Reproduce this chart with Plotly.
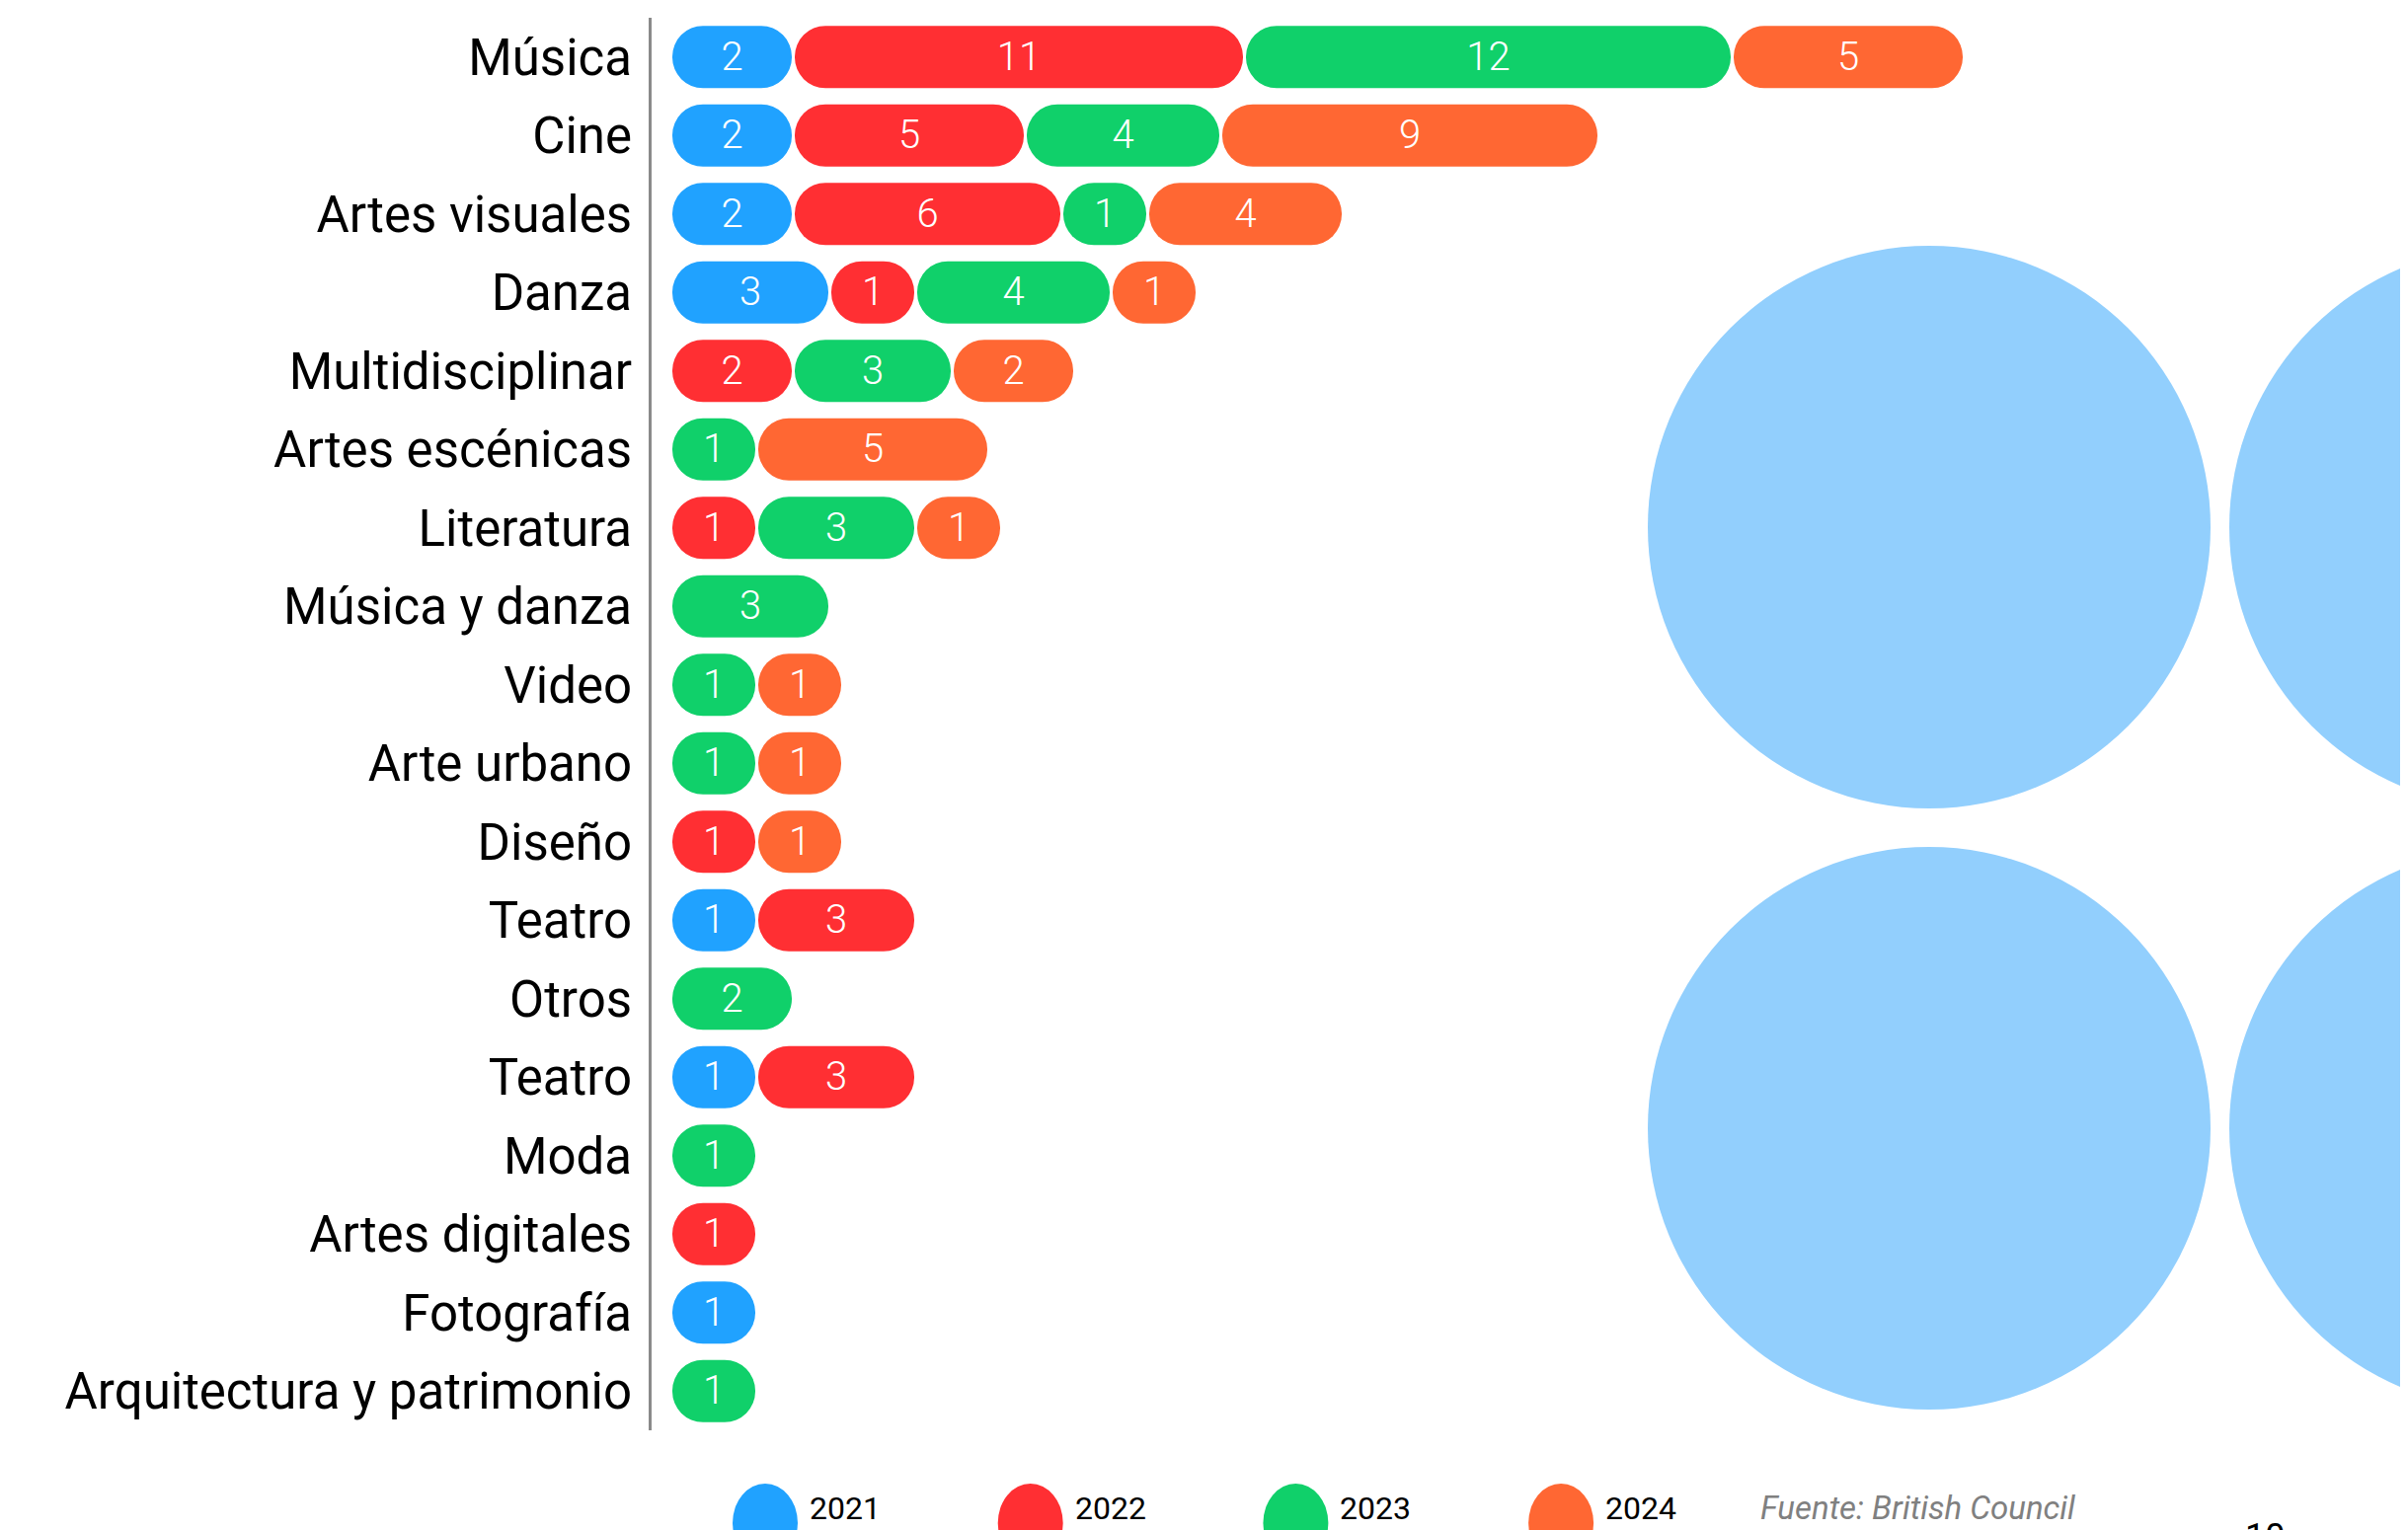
import plotly.graph_objects as go

# ---------------- data ----------------
categories = ["Música", "Cine", "Artes visuales", "Danza", "Multidisciplinar",
              "Artes escénicas", "Literatura", "Música y danza", "Video",
              "Arte urbano", "Diseño", "Teatro", "Otros", "Teatro", "Moda",
              "Artes digitales", "Fotografía", "Arquitectura y patrimonio"]
years = ["2021", "2022", "2023", "2024"]
v2021 = [2, 2, 2, 3, 0, 0, 0, 0, 0, 0, 0, 1, 0, 1, 0, 0, 1, 0]
v2022 = [11, 5, 6, 1, 2, 0, 1, 0, 0, 0, 1, 3, 0, 3, 0, 1, 0, 0]
v2023 = [12, 4, 1, 4, 3, 1, 3, 3, 1, 1, 0, 0, 2, 0, 1, 0, 0, 1]
v2024 = [5, 9, 4, 1, 2, 5, 1, 0, 1, 1, 1, 0, 0, 0, 0, 0, 0, 0]
source_text = "Fuente: British Council"
page_number = "10"

# ---------------- style ----------------
colors = ["#20A2FF", "#FF2F33", "#10D06A", "#FF6733"]
circle_color = "#92CFFD"
W, H = 2439, 1550
OFF = 8                 # page body margin of the browser
ML, MR, MT, MB = 652, 0, 10, 109
PW, PH = W - ML - MR, H - MT - MB
UNIT_PX = 37.0          # pixels per unit of value
PAD = 47.0 / UNIT_PX    # extra length of each pill (rounded ends)
GAP = 3.0 / UNIT_PX     # small gap between pills
START = 21.0 / UNIT_PX  # gap between axis line and first pill
BAR_PX = 63.0
n = len(categories)
ROW_PX = PH / n
bar_w = BAR_PX / ROW_PX
TEXT_DY = 3.0 / ROW_PX  # nudge value labels down slightly
FONT = "Roboto"

def px_x(p):
    return (p - OFF - ML) / PW

def px_y(p):
    return (H - MB - (p - OFF)) / PH

series = [v2021, v2022, v2023, v2024]
rows = list(range(n))

fig = go.Figure()

for k, (yr, vals) in enumerate(zip(years, series)):
    ys, bases, lens, centers, labels = [], [], [], [], []
    for i in rows:
        pos = START
        for kk in range(k):
            if series[kk][i] > 0:
                pos += series[kk][i] + PAD + GAP
        v = vals[i]
        if v > 0:
            L = v + PAD
            ys.append(i)
            bases.append(pos)
            lens.append(L)
            centers.append(pos + L / 2)
            labels.append(str(v))
    fig.add_trace(go.Bar(
        orientation="h", y=ys, x=lens, base=bases, width=bar_w, name=yr,
        marker=dict(color=colors[k], cornerradius="50%", line=dict(width=0)),
        hoverinfo="skip", showlegend=False))
    fig.add_trace(go.Scatter(
        x=centers, y=[y + TEXT_DY for y in ys], mode="text", text=labels,
        textfont=dict(color="white", size=40, family=FONT, weight=300),
        hoverinfo="skip", showlegend=False))

shapes = []
# decorative circles
R = 285
for cx, cy in [(1954, 534), (1954, 1143), (2543, 534), (2543, 1143)]:
    shapes.append(dict(type="circle", xref="paper", yref="paper",
                       x0=px_x(cx - R), x1=px_x(cx + R),
                       y0=px_y(cy + R), y1=px_y(cy - R),
                       fillcolor=circle_color, line=dict(width=0), layer="below"))

annotations = []
LEG_X0, LEG_STEP, LEG_W, LEG_TOP = 742, 268.7, 66, 1503
for k, yr in enumerate(years):
    x0 = LEG_X0 + k * LEG_STEP
    shapes.append(dict(type="circle", xref="paper", yref="paper",
                       x0=px_x(x0), x1=px_x(x0 + LEG_W),
                       y0=px_y(LEG_TOP + 80), y1=px_y(LEG_TOP),
                       fillcolor=colors[k], line=dict(width=0)))
    annotations.append(dict(xref="paper", yref="paper", x=px_x(x0 + 76), y=px_y(1528),
                            text=yr, showarrow=False, xanchor="left", yanchor="middle",
                            font=dict(size=32, color="black", family=FONT)))

annotations.append(dict(xref="paper", yref="paper", x=px_x(1781), y=px_y(1527),
                        text="<i>" + source_text + "</i>", showarrow=False,
                        xanchor="left", yanchor="middle",
                        font=dict(size=33, color="#808080", family=FONT)))
annotations.append(dict(xref="paper", yref="paper", x=px_x(2272), y=px_y(1534),
                        text=page_number, showarrow=False,
                        xanchor="left", yanchor="top",
                        font=dict(size=36, color="black", family=FONT)))

fig.update_layout(
    width=W, height=H, margin=dict(l=ML, r=MR, t=MT, b=MB, autoexpand=False),
    paper_bgcolor="white", plot_bgcolor="rgba(0,0,0,0)",
    barmode="overlay", showlegend=False,
    shapes=shapes, annotations=annotations,
    xaxis=dict(range=[0, PW / UNIT_PX], visible=False, fixedrange=True),
    yaxis=dict(range=[n - 0.5, -0.5], tickmode="array", tickvals=rows,
               ticktext=categories, showline=True, linecolor="#8A8A8A",
               linewidth=2.5, ticks="outside", ticklen=7,
               tickcolor="rgba(0,0,0,0)", showgrid=False, zeroline=False,
               tickfont=dict(size=51, color="black", family=FONT),
               fixedrange=True),
)

fig.write_html("out.html")
